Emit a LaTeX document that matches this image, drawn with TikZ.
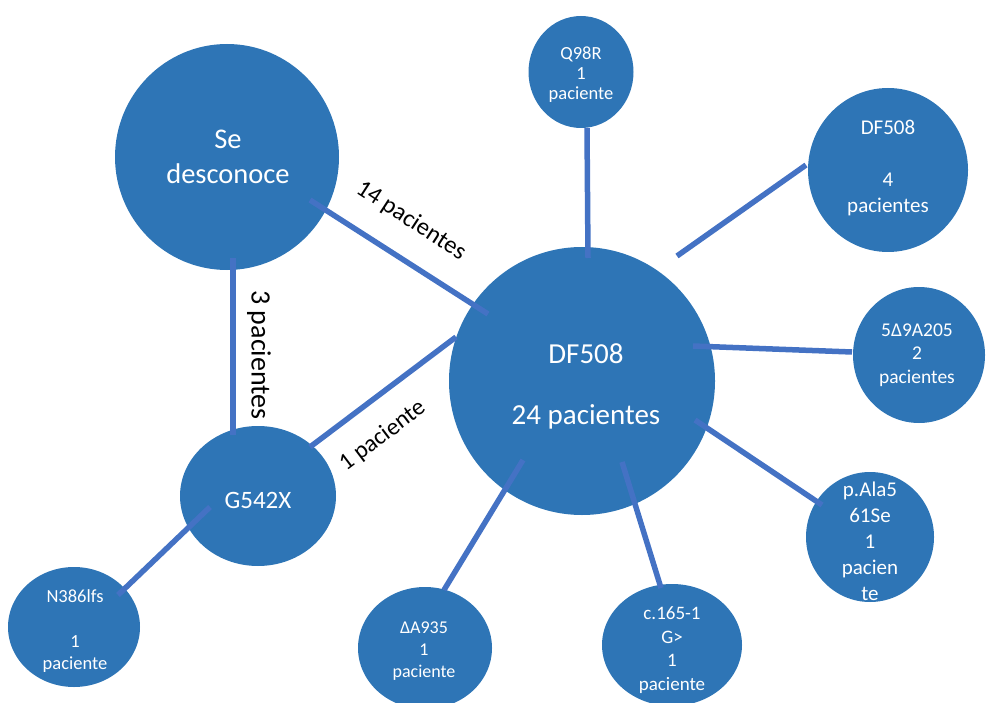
\documentclass[tikz,border=0pt]{standalone}
\usepackage{fontspec}
\setmainfont{Carlito}
\usetikzlibrary{shapes.geometric}
\definecolor{blobfill}{HTML}{2E75B6}
\definecolor{linkcol}{HTML}{4472C4}
\tikzset{
  blob/.style={ellipse, fill=blobfill, draw=none, inner sep=0pt},
  txt/.style={text=white, align=center, inner sep=0pt},
  link/.style={draw=linkcol, line width=5.5pt},
  lab/.style={text=black, inner sep=0pt}
}
\newcommand{\fs}[2]{\fontsize{#1}{#2}\selectfont}
\begin{document}
\begin{tikzpicture}[x=1pt,y=-1pt]
\useasboundingbox (0,0) rectangle (987,703);
\clip (0,0) rectangle (987,703);
% circles
\node[blob, minimum width=224pt, minimum height=226pt] (sd) at (227,157) {};
\node[blob, minimum width=266pt, minimum height=268pt] (main) at (582,381) {};
\node[blob, minimum width=105pt, minimum height=112pt] (q98) at (581,72) {};
\node[blob, minimum width=160pt, minimum height=164pt] (df4) at (888,170) {};
\node[blob, minimum width=132pt, minimum height=136pt] (d9) at (919,355) {};
\node[blob, minimum width=128pt, minimum height=130pt] (ala) at (870,537) {};
\node[blob, minimum width=140pt, minimum height=122pt] (c165) at (672,645) {};
\node[blob, minimum width=134pt, minimum height=122pt] (a935) at (425,648) {};
\node[blob, minimum width=132pt, minimum height=120pt] (n386) at (74,627) {};
\node[blob, minimum width=156pt, minimum height=140pt] (g542) at (258,496) {};
% texts
\node[txt, font=\fs{28.5}{35}] (tsd) at (228,157) {Se\\desconoce};
\node[txt, font=\fs{29}{30.5}] (tmain) at (586,386) {DF508\\[30.5pt]24 pacientes};
\node[txt, font=\fs{18.5}{20}] (tq98) at (581,75) {Q98R\\1\\paciente};
\node[txt, font=\fs{21}{26}] (tdf4) at (888,168) {DF508\\[26pt]4\\pacientes};
\node[txt, font=\fs{19.5}{23.5}] (td9) at (917,355) {5Δ9A205\\2\\pacientes};
\node[txt, font=\fs{21}{26}] (tala) at (870,541) {p.Ala5\\61Se\\1\\pacien\\te};
\node[txt, font=\fs{19}{23.5}] (tc165) at (672,650) {c.165-1\\G>\\1\\paciente};
\node[txt, font=\fs{18}{22}] (ta935) at (424,651) {ΔA935\\1\\paciente};
\node[txt, font=\fs{18.5}{22.5}] (tn386) at (75,631) {N386lfs\\[22.5pt]1\\paciente};
\node[txt, font=\fs{25}{29}] (tg542) at (258,500) {G542X};
% link end points
\coordinate (e1a) at (310,200); \coordinate (e1b) at (488,314);
\coordinate (e2a) at (587,128); \coordinate (e2b) at (588,258);
\coordinate (e3a) at (806,165); \coordinate (e3b) at (677,256);
\coordinate (e4a) at (852,352); \coordinate (e4b) at (693,346);
\coordinate (e5a) at (822,505); \coordinate (e5b) at (695,420);
\coordinate (e6a) at (661,588); \coordinate (e6b) at (622,462);
\coordinate (e7a) at (444,590); \coordinate (e7b) at (523,460);
\coordinate (e8a) at (310,447); \coordinate (e8b) at (456,337);
\coordinate (e9a) at (233,258); \coordinate (e9b) at (233,435);
\coordinate (e10a) at (118,595); \coordinate (e10b) at (210,507);
% links
\draw[link] (e1a) -- (e1b);
\draw[link] (e2a) -- (e2b);
\draw[link] (e3a) -- (e3b);
\draw[link] (e4a) -- (e4b);
\draw[link] (e5a) -- (e5b);
\draw[link] (e6a) -- (e6b);
\draw[link] (e7a) -- (e7b);
\draw[link] (e8a) -- (e8b);
\draw[link] (e9a) -- (e9b);
\draw[link] (e10a) -- (e10b);
% link labels
\node[lab, font=\fs{24.5}{29}, rotate=-33] (l14) at (411,221) {14 pacientes};
\node[lab, font=\fs{28}{32}, rotate=-90] (l3) at (259,355) {3 pacientes};
\node[lab, font=\fs{24}{28}, rotate=37] (l1) at (383,436) {1 paciente};
\end{tikzpicture}
\end{document}
